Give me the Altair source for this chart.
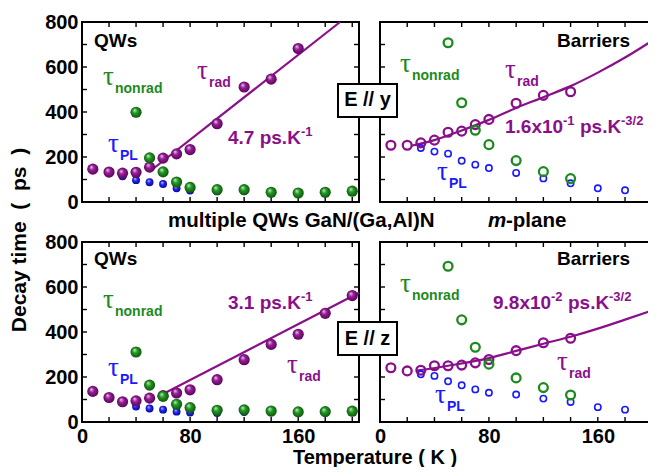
import altair as alt
import pandas as pd

# ---------------- data ----------------
# QWs, E // y  (top left, filled spheres)
tl_rad_T = [8, 20, 30, 40, 50, 60, 70, 80, 100, 120, 140, 160]
tl_rad = [146, 133, 128, 132, 155, 195, 214, 233, 348, 511, 546, 682]
tl_nr_T = [40, 50, 60, 70, 80, 100, 120, 140, 160, 180, 200]
tl_nr = [399, 196, 134, 89, 65, 55, 55, 43, 40, 43, 48]
tl_pl_T = [30, 40, 50, 60, 70, 80, 100, 120, 140, 160, 180, 200]
tl_pl = [114, 97, 88, 80, 61, 51, 47, 48, 40, 38, 41, 44]
tl_fit_T = [51, 191]
tl_fit = [140, 800]

# Barriers, E // y  (top right, open circles)
tr_rad_T = [8, 20, 30, 40, 50, 60, 70, 80, 100, 120, 140]
tr_rad = [252, 252, 263, 275, 310, 315, 344, 367, 439, 474, 490]
tr_nr_T = [50, 60, 70, 80, 100, 120, 140]
tr_nr = [708, 441, 319, 255, 184, 135, 104]
tr_pl_T = [30, 40, 50, 60, 70, 80, 100, 120, 140, 160, 180, 200]
tr_pl = [240, 224, 215, 183, 166, 151, 129, 105, 83, 61, 52, 50]
tr_fit_T = [23, 40, 60, 80, 100, 120, 140, 160, 180, 202]
tr_fit = [250, 275, 318, 365, 418, 466, 515, 575, 642, 725]

# QWs, E // z  (bottom left, filled spheres)
bl_rad_T = [8, 20, 30, 40, 50, 60, 70, 80, 100, 120, 140, 160, 180, 200]
bl_rad = [136, 109, 90, 94, 106, 117, 129, 143, 188, 277, 345, 390, 483, 562]
bl_nr_T = [40, 50, 60, 70, 80, 100, 120, 140, 160, 180, 200]
bl_nr = [311, 164, 114, 79, 64, 52, 54, 49, 45, 46, 48]
bl_pl_T = [40, 50, 60, 70, 80, 100, 120, 140, 160, 180, 200]
bl_pl = [69, 60, 55, 46, 42, 40, 44, 42, 40, 41, 43]
bl_fit_T = [56, 205]
bl_fit = [112, 574]

# Barriers, E // z  (bottom right, open circles)
br_rad_T = [8, 20, 30, 40, 50, 60, 70, 80, 100, 120, 140]
br_rad = [241, 227, 230, 250, 250, 253, 263, 278, 317, 352, 372]
br_nr_T = [50, 60, 70, 80, 100, 120, 140]
br_nr = [692, 454, 332, 257, 196, 153, 120]
br_pl_T = [30, 40, 50, 60, 70, 80, 100, 120, 140, 160, 180, 200]
br_pl = [212, 205, 181, 163, 145, 130, 122, 104, 89, 66, 55, 51]
br_fit_T = [27, 50, 80, 100, 120, 140, 160, 180, 202]
br_fit = [228, 250, 284, 316, 348, 379, 415, 455, 500]

x_ticks = [0, 20, 40, 60, 80, 100, 120, 140, 160, 180, 200]
x_labels = [0, 80, 160]
y_ticks = [0, 100, 200, 300, 400, 500, 600, 700, 800]
y_labels = [0, 200, 400, 600, 800]

# ---------------- style ----------------
SANS = "Liberation Sans"
SERIF = "Liberation Serif"
PURPLE = "#8a0f8a"
GREEN = "#1c8a1c"
BLUE = "#1a1aff"
H = 180
NB = "\u00a0"


def sphere(hi, mid, dark):
    return {"gradient": "radial", "x1": 0.35, "y1": 0.3, "r1": 0, "x2": 0.5, "y2": 0.5, "r2": 0.55,
            "stops": [{"offset": 0, "color": hi}, {"offset": 0.4, "color": mid},
                      {"offset": 1, "color": dark}]}


SPH = {
    PURPLE: sphere("#f2d2f2", "#951f95", "#550055"),
    GREEN: sphere("#d2f2d2", "#229a22", "#0b4d0b"),
    BLUE: sphere("#d6d6ff", "#2a2aff", "#00008c"),
}

ONE = pd.DataFrame({"k": [0]})


def df(T, v):
    return pd.DataFrame({"T": T, "v": v})


def txt(s, x, y, color="black", size=19, weight="bold", font=SANS, align="left",
        baseline="alphabetic", style="normal", angle=0):
    return alt.Chart(ONE).mark_text(
        align=align, baseline=baseline, font=font, fontSize=size, fontWeight=weight,
        fontStyle=style, color=color, angle=angle
    ).encode(x=alt.value(x), y=alt.value(y), text=alt.value(s))


def tau(x, y, sub, color, subdx=12, subdy=8):
    return [txt("\u03c4", x, y, color=color, size=27, weight="normal", font=SERIF),
            txt(sub, x + subdx, y + subdy, color=color, size=14)]


def panel(W, xmax, rad, nr, pl, fit, filled, xlab, ylab, notes, curve=False):
    xs = alt.Scale(domain=[0, xmax], nice=False, zero=False)
    ys = alt.Scale(domain=[0, 800], nice=False)
    xax = alt.Axis(values=x_labels, ticks=False, domain=False, grid=False, labelFlush=False,
                   labelFont=SANS, labelFontWeight="bold", labelFontSize=20,
                   labelColor="black", labelPadding=4, title=None) if xlab else None
    yax = alt.Axis(values=y_labels, ticks=False, domain=False, grid=False, labelFlush=False,
                   labelFont=SANS, labelFontWeight="bold", labelFontSize=20,
                   labelColor="black", labelPadding=4, title=None) if ylab else None

    def X():
        return alt.X("T:Q", scale=xs, axis=xax)

    def Y():
        return alt.Y("v:Q", scale=ys, axis=yax)

    xt = pd.DataFrame({"T": x_ticks})
    yt = pd.DataFrame({"v": y_ticks})
    L = 5
    layers = [
        alt.Chart(xt).mark_rule(color="black", strokeWidth=1.4).encode(
            x=X(), y=alt.value(H), y2=alt.value(H - L)),
        alt.Chart(xt).mark_rule(color="black", strokeWidth=1.4).encode(
            x=X(), y=alt.value(0), y2=alt.value(L)),
        alt.Chart(yt).mark_rule(color="black", strokeWidth=1.4).encode(
            y=Y(), x=alt.value(0), x2=alt.value(L)),
        alt.Chart(yt).mark_rule(color="black", strokeWidth=1.4).encode(
            y=Y(), x=alt.value(W), x2=alt.value(W - L)),
        alt.Chart(fit).mark_line(color=PURPLE, strokeWidth=2.2,
                                 interpolate="monotone" if curve else "linear").encode(x=X(), y=Y()),
    ]
    if filled:
        for d, c, s in [(pl, BLUE, 62), (rad, PURPLE, 125), (nr, GREEN, 125)]:
            layers.append(alt.Chart(d).mark_point(shape="circle", filled=True, fill=SPH[c],
                                                  opacity=1, size=s, strokeWidth=0).encode(x=X(), y=Y()))
    else:
        for d, c, s, sw in [(pl, BLUE, 40, 1.6), (rad, PURPLE, 78, 2.3), (nr, GREEN, 78, 2.3)]:
            layers.append(alt.Chart(d).mark_point(shape="circle", filled=False, color=c, stroke=c,
                                                  opacity=1, size=s, strokeWidth=sw).encode(x=X(), y=Y()))
    layers += notes
    return alt.layer(*layers).properties(width=W, height=H)


def ebox(x1, x2, y1, y2, label, cy):
    return [
        alt.Chart(ONE).mark_rect(fill="white", stroke="black", strokeWidth=2).encode(
            x=alt.value(x1), x2=alt.value(x2), y=alt.value(y1), y2=alt.value(y2)),
        txt(label, (x1 + x2) / 2, cy, size=20, align="center", baseline="middle"),
    ]


WL, WR = 277, 275

tl_notes = ([txt("QWs", 12, 25)]
            + tau(21, 63, "nonrad", GREEN)
            + tau(115, 57, "rad", PURPLE)
            + [txt("4.7 ps.K", 146, 122, color=PURPLE), txt("-1", 219, 114, color=PURPLE, size=13)]
            + tau(26, 130, "PL", BLUE)
            + [txt("multiple QWs GaN/(Ga,Al)N", 86, 205, size=20.5),
               txt("m", 406, 205, size=20.5, style="italic"),
               txt("-plane", 424, 205, size=20.5),
               txt("Decay time " + NB + "(" + NB + " ps " + NB + ")", -62, 218, size=21,
                   align="center", baseline="middle", angle=270)])

tr_notes = ([txt("Barriers", 250, 25, align="right")]
            + tau(20, 50, "nonrad", GREEN)
            + tau(125, 56, "rad", PURPLE)
            + [txt("1.6x10", 125, 111, color=PURPLE), txt("-1", 183, 103, color=PURPLE, size=13),
               txt("ps.K", 200, 111, color=PURPLE), txt("-3/2", 241, 103, color=PURPLE, size=13)]
            + tau(57, 158, "PL", BLUE)
            + ebox(-42, 17, 62, 95, "E // y", 78))

bl_notes = ([txt("QWs", 12, 23)]
            + tau(21, 66, "nonrad", GREEN)
            + [txt("3.1 ps.K", 146, 67, color=PURPLE), txt("-1", 219, 59, color=PURPLE, size=13)]
            + tau(205, 131, "rad", PURPLE)
            + tau(26, 134, "PL", BLUE)
            + [txt("Temperature ( K )", 293, 222, size=20, align="center")])

br_notes = ([txt("Barriers", 250, 23, align="right")]
            + tau(20, 50, "nonrad", GREEN)
            + [txt("9.8x10", 113, 67, color=PURPLE), txt("-2", 171, 59, color=PURPLE, size=13),
               txt("ps.K", 188, 67, color=PURPLE), txt("-3/2", 229, 59, color=PURPLE, size=13)]
            + tau(177, 128, "rad", PURPLE)
            + tau(55, 161, "PL", BLUE)
            + ebox(-42, 17, 80, 113, "E // z", 97))

TL = panel(WL, 205, df(tl_rad_T, tl_rad), df(tl_nr_T, tl_nr), df(tl_pl_T, tl_pl),
           df(tl_fit_T, tl_fit), True, False, True, tl_notes)
TR = panel(WR, 202, df(tr_rad_T, tr_rad), df(tr_nr_T, tr_nr), df(tr_pl_T, tr_pl),
           df(tr_fit_T, tr_fit), False, False, False, tr_notes, curve=True)
BL = panel(WL, 205, df(bl_rad_T, bl_rad), df(bl_nr_T, bl_nr), df(bl_pl_T, bl_pl),
           df(bl_fit_T, bl_fit), True, True, True, bl_notes)
BR = panel(WR, 202, df(br_rad_T, br_rad), df(br_nr_T, br_nr), df(br_pl_T, br_pl),
           df(br_fit_T, br_fit), False, True, False, br_notes, curve=True)

# fixed-size canvas: 640 x 459 px (fits the page inside its 8 px margin); the
# top-left plot area starts 74 px from the left and 14 px from the top
chart = alt.concat(
    TL, TR, BL, BR, columns=2,
    spacing={"row": 40, "column": 21}, bounds="flush",
).properties(
    autosize=alt.AutoSizeParams(type="none"),
    padding={"left": 74, "top": 14, "right": 566, "bottom": 445},
    background="white",
).configure_view(stroke="black", strokeWidth=2, fill="white")

chart.save("out.html", embed_options={"renderer": "svg", "actions": False})
